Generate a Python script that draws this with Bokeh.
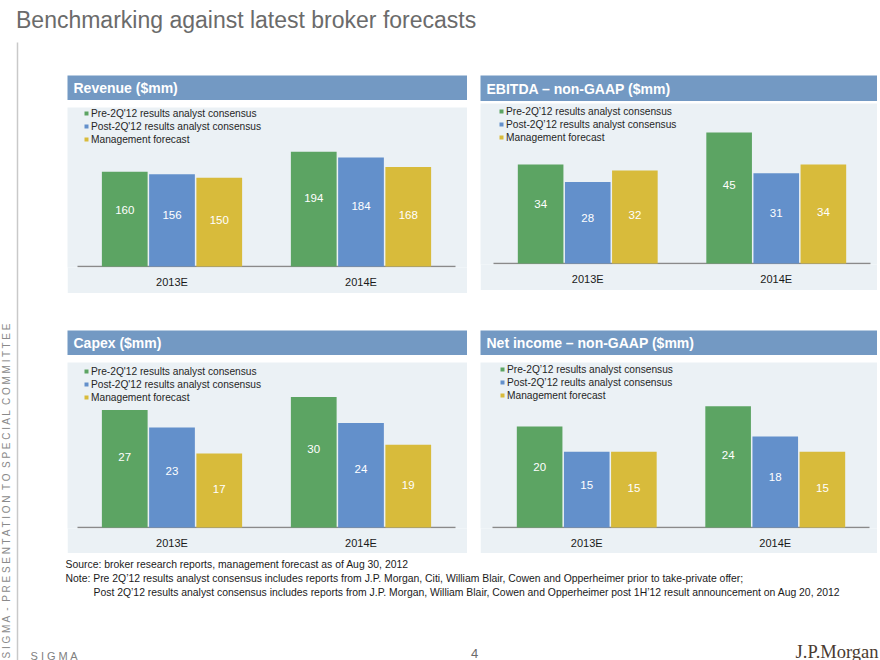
from bokeh.plotting import figure
from bokeh.models import Range1d, ColumnDataSource, Legend, LegendItem, Spacer, FixedTicker
from bokeh.layouts import row, column
from bokeh.transform import dodge
from bokeh.core.properties import value
from bokeh.embed import file_html
from bokeh.resources import INLINE
import math

# ---------------- data ----------------
categories = ["2013E", "2014E"]

legend_rev = ["Pre-2Q'12 results analyst consensus", "Post-2Q'12 results analyst consensus", "Management forecast"]
legend_ebitda = ["Pre-2Q\u201912 results analyst consensus", "Post-2Q\u201912 results analyst consensus", "Management forecast"]
legend_capex = ["Pre-2Q'12 results analyst consensus", "Post-2Q'12 results analyst consensus", "Management forecast"]
legend_ni = ["Pre-2Q\u201912 results analyst consensus", "Post-2Q\u201912 reults analyst consensus", "Management forecast"]

revenue_pre = [160, 194]
revenue_post = [156, 184]
revenue_mgmt = [150, 168]

ebitda_pre = [34, 45]
ebitda_post = [28, 31]
ebitda_mgmt = [32, 34]

capex_pre = [27, 30]
capex_post = [23, 24]
capex_mgmt = [17, 19]

ni_pre = [20, 24]
ni_post = [15, 18]
ni_mgmt = [15, 15]

page_title = "Benchmarking against latest broker forecasts"
panel_titles = ["Revenue ($mm)", "EBITDA \u2013 non-GAAP ($mm)", "Capex ($mm)", "Net income \u2013 non-GAAP ($mm)"]
side_text = ("S I G M A \u00a0- \u00a0P R E S E N T A T I O N \u00a0T O \u00a0"
             "S P E C I A L \u00a0C O M M I T T E E")
source_note = "Source: broker research reports, management forecast as of Aug 30, 2012"
note_line1 = ("Note: Pre 2Q\u201912 results analyst consensus includes reports from J.P. Morgan, Citi, "
              "William Blair, Cowen and Opperheimer prior to take-private offer;")
note_line2 = ("Post 2Q\u201912 results analyst consensus includes reports from  J.P. Morgan, William Blair, "
              "Cowen and Opperheimer post 1H\u201912 result announcement on Aug 20, 2012")

# ---------------- style ----------------
FONT = "Liberation Sans"
GREEN = "#5ca463"
BLUE = "#6390cb"
YELLOW = "#d8bb3b"
HEADER = "#7399c3"
BODY_BG = "#ebf1f5"
GRAY_TXT = "#6b6b6b"
COLORS = [GREEN, BLUE, YELLOW]
OFFSETS = [-0.25, 0.0, 0.25]
LABEL_FRAC = [0.60, 0.56, 0.52]


def blank(w, h, xr, yr, bg="white"):
    p = figure(width=w, height=h, x_range=xr, y_range=yr, title=None,
               x_axis_location=None, y_axis_location=None,
               output_backend="svg", toolbar_location=None,
               min_border_left=0, min_border_right=0, min_border_top=0, min_border_bottom=0)
    p.background_fill_color = bg
    p.border_fill_color = bg
    p.outline_line_color = None
    p.grid.visible = False
    return p


def header(title, w, h):
    p = blank(w, h, Range1d(0, w), Range1d(0, h), HEADER)
    p.text(x=[6], y=[h / 2.0], text=[title], text_font=value(FONT),
           text_font_style="bold", text_font_size="14px", text_color="white",
           text_baseline="middle", text_align="left")
    return p


def body(pre, post, mgmt, labels, w, h, inset_l, inset_r, bb, px_per_unit, leg_dx, leg_top):
    # frame spans the full figure width (so it lines up with the header frame);
    # the insets of the category area are put in the x range instead
    n = len(categories)
    x_idx = list(range(n))
    px_per_cat = (w - inset_l - inset_r) / float(n)
    bb_eff = bb - 1
    frame_h = h - bb_eff
    y_start = -1.0 / px_per_unit
    y_end = y_start + frame_h / px_per_unit

    data = dict(x=x_idx, year=categories)
    for key, vals, frac in zip(["pre", "post", "mgmt"], [pre, post, mgmt], LABEL_FRAC):
        data[key] = vals
        data[key + "_lab"] = [str(v) for v in vals]
        data[key + "_y"] = [v * frac for v in vals]
        data[key + "_nan"] = [float("nan")] * n
    src = ColumnDataSource(data)

    p = figure(width=w, height=h, title=None,
               x_range=Range1d(-0.5 - inset_l / px_per_cat, n - 0.5 + inset_r / px_per_cat),
               y_range=Range1d(y_start, y_end),
               y_axis_location=None,
               output_backend="svg", toolbar_location=None,
               min_border_left=0, min_border_right=0,
               min_border_top=0, min_border_bottom=bb_eff)
    p.background_fill_color = BODY_BG
    p.border_fill_color = BODY_BG
    p.outline_line_color = None
    p.grid.visible = False

    # baseline of the category area
    p.segment(x0=[x_idx[0] - 0.5], x1=[x_idx[-1] + 0.5], y0=[0], y1=[0],
              line_color="#8a8a8a", line_width=1.5)

    items = []
    for key, off, col, lab in zip(["pre", "post", "mgmt"], OFFSETS, COLORS, labels):
        p.vbar(x=dodge("x", off), top=key, width=0.242,
               source=src, fill_color=col, line_color=None)
        p.text(x=dodge("x", off), y=key + "_y", text=key + "_lab",
               source=src, text_font=value(FONT), text_font_size="11.5px",
               text_color="white", text_align="center", text_baseline="middle")
        # legend-only marker (no visible data point)
        r = p.scatter(x="x", y=key + "_nan", source=src, marker="square", size=4,
                      fill_color=col, line_color=None)
        items.append(LegendItem(label=lab, renderers=[r]))

    leg_h = 3 * 12 + 2 * 1
    legend = Legend(items=items, location=(inset_l + leg_dx, frame_h - leg_top - leg_h),
                    padding=0, margin=0, spacing=1,
                    glyph_width=10, glyph_height=12, label_height=12, label_standoff=0,
                    background_fill_alpha=0, border_line_color=None,
                    label_text_font=FONT, label_text_font_size="10.2px",
                    label_text_color="#262626")
    p.add_layout(legend)

    ax = p.xaxis[0]
    ax.ticker = FixedTicker(ticks=x_idx)
    ax.major_label_overrides = {i: c for i, c in zip(x_idx, categories)}
    ax.axis_line_color = None
    ax.major_tick_line_color = None
    ax.minor_tick_line_color = None
    ax.major_label_text_font = FONT
    ax.major_label_text_font_size = "11px"
    ax.major_label_text_color = "#1a1a1a"
    ax.major_label_standoff = 2
    return p


# ---------------- title ----------------
title_fig = blank(880, 40, Range1d(0, 880), Range1d(40, 0))
title_fig.text(x=[15.5], y=[19.5], text=[page_title], text_font=value(FONT),
               text_font_size="23px", text_color=GRAY_TXT,
               text_baseline="alphabetic", text_align="left")

# ---------------- left strip ----------------
left_fig = blank(25, 620, Range1d(0, 25), Range1d(660, 40))
left_fig.segment(x0=[17], y0=[42], x1=[17], y1=[660], line_color="#c9c9c9", line_width=1.5)
left_fig.text(x=[5.5], y=[658], text=[side_text], angle=math.pi / 2,
              text_font=value(FONT), text_font_size="10px", text_color="#8a8a8a",
              text_align="left", text_baseline="middle")

# ---------------- panels ----------------
rev_col = column(header(panel_titles[0], 400, 25), Spacer(width=400, height=7),
                 body(revenue_pre, revenue_post, revenue_mgmt, legend_rev,
                      400, 186, 10, 12, 27, 0.592, 4, 0))
ebitda_col = column(header(panel_titles[1], 397, 26), Spacer(width=397, height=2),
                    body(ebitda_pre, ebitda_post, ebitda_mgmt, legend_ebitda,
                         397, 187, 13, 7, 27, 2.91, 3, 2))
capex_col = column(header(panel_titles[2], 400, 25), Spacer(width=400, height=7),
                   body(capex_pre, capex_post, capex_mgmt, legend_capex,
                        400, 191, 10, 12, 26, 4.35, 4, 3))
ni_col = column(header(panel_titles[3], 397, 25), Spacer(width=397, height=7),
                body(ni_pre, ni_post, ni_mgmt, legend_ni,
                     397, 191, 12, 8, 26, 5.05, 5, 1))

row1 = row(Spacer(width=42, height=218), rev_col, Spacer(width=13, height=218), ebitda_col, Spacer(width=3, height=218))
row2 = row(Spacer(width=42, height=223), capex_col, Spacer(width=13, height=223), ni_col, Spacer(width=3, height=223))

# ---------------- notes / footer ----------------
notes_fig = blank(855, 107, Range1d(25, 880), Range1d(660, 553))
notes_fig.text(x=[65, 65, 93], y=[563.5, 578, 591.5], text=[source_note, note_line1, note_line2],
               text_font=value(FONT), text_font_size="10.4px", text_color="#1a1a1a",
               text_align="left", text_baseline="middle")
notes_fig.text(x=[30], y=[655], text=["S I G M A"], text_font=value(FONT),
               text_font_size="11px", text_color="#808080",
               text_align="left", text_baseline="middle")
notes_fig.text(x=[474], y=[653], text=["4"], text_font=value(FONT),
               text_font_size="13px", text_color=GRAY_TXT,
               text_align="center", text_baseline="middle")
notes_fig.text(x=[878], y=[651], text=["J.P.Morgan"], text_font=value("Liberation Serif"),
               text_font_size="18.5px", text_color="#4a3a30",
               text_align="right", text_baseline="alphabetic")

right_col = column(Spacer(width=855, height=35), row1, Spacer(width=855, height=37), row2, notes_fig)
page = column(title_fig, row(left_fig, right_col))

open("out.html", "w").write(file_html(page, INLINE))
